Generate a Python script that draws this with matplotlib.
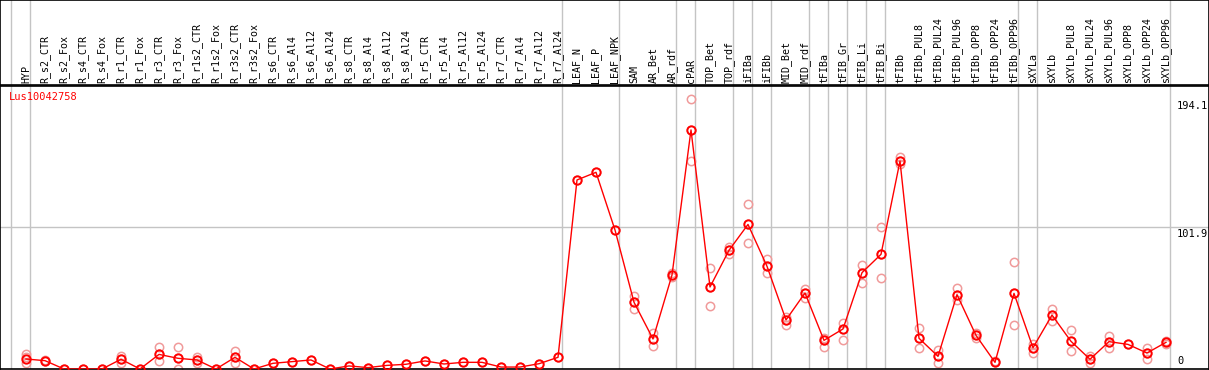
import matplotlib
matplotlib.use("Agg")
import matplotlib.pyplot as plt
from matplotlib.transforms import offset_copy

# categories along the x axis
categories = ["HYP",
    "R_s2_CTR", "R_s2_Fox", "R_s4_CTR", "R_s4_Fox", "R_r1_CTR", "R_r1_Fox",
    "R_r3_CTR", "R_r3_Fox", "R_r1s2_CTR", "R_r1s2_Fox", "R_r3s2_CTR", "R_r3s2_Fox",
    "R_s6_CTR", "R_s6_Al4", "R_s6_Al12", "R_s6_Al24", "R_s8_CTR", "R_s8_Al4",
    "R_s8_Al12", "R_s8_Al24", "R_r5_CTR", "R_r5_Al4", "R_r5_Al12", "R_r5_Al24",
    "R_r7_CTR", "R_r7_Al4", "R_r7_Al12", "R_r7_Al24",
    "LEAF_N", "LEAF_P", "LEAF_NPK",
    "SAM", "AR_Bet", "AR_rdf",
    "cPAR",
    "TOP_Bet", "TOP_rdf",
    "iFIBa", "iFIBb",
    "MID_Bet", "MID_rdf",
    "tFIBa", "tFIB_Gr", "tFIB_Li", "tFIB_Bi",
    "tFIBb", "tFIBb_PUL8", "tFIBb_PUL24", "tFIBb_PUL96", "tFIBb_OPP8", "tFIBb_OPP24", "tFIBb_OPP96",
    "sXYLa",
    "sXYLb", "sXYLb_PUL8", "sXYLb_PUL24", "sXYLb_PUL96", "sXYLb_OPP8", "sXYLb_OPP24", "sXYLb_OPP96"]

# number of samples in each group (gray separators)
group_sizes = [1, 28, 3, 3, 1, 2, 1, 1, 2, 1, 1, 1, 1, 7, 1, 7]

means = [7.2,
    6.0, 0, 0, 0, 7.0, 0, 10.5, 7.7, 6.5, 0, 8.4, 0,
    4.1, 5.3, 6.5, 0, 2.2, 1.0, 2.6, 3.4, 5.8, 3.6, 4.8, 4.8, 1.4, 1.4, 3.8, 8.4,
    136, 141.5, 100,
    48, 21.6, 67.6,
    172,
    59, 85.4,
    104, 73.9,
    35.3, 54.7,
    20.6, 28.8, 69.3, 82.5,
    149.6, 22.1, 9.1, 53.5, 24.2, 4.8, 54.4,
    15.3,
    38.8, 19.9, 7.0, 19.7, 17.7, 11.5, 19.2]

replicates = [[10.5, 8.5, 4],
    [6.5, 5.5], [0], [0], [0], [9.5, 7, 4], [0], [15.5, 10.5, 5.5], [15.5, 7.7, 0],
    [8.5, 6.5, 4], [0], [13, 8.4, 4], [0],
    [4.1], [5.3], [6.5], [0], [2.2], [1.0], [2.6], [3.4], [5.8], [3.6], [4.8], [4.8],
    [1.4], [1.4], [3.8], [8.4],
    [136], [141.5], [100],
    [52.5, 48, 43], [25.7, 21.6, 16.8], [69, 67.6, 66],
    [194.1, 172, 149.4],
    [72.4, 59, 45.1], [87.5, 85.4, 83],
    [118.5, 104, 90.4], [79.1, 73.9, 69.3],
    [37.6, 35.3, 31.7], [57.8, 54.7, 50.8],
    [22.1, 20.6, 15.6], [32.9, 28.8, 20.6], [74.8, 69.3, 61.6], [101.9, 82.5, 65.2],
    [152.3, 149.6, 147.5], [29.3, 22.1, 14.9], [13.7, 9.1, 4.6], [58, 53.5, 49.6],
    [26.1, 24.2, 22.1], [5.5, 4.8], [77, 54.4, 31.4],
    [17.7, 15.3, 11.3],
    [43.2, 38.8, 34.8], [28, 19.9, 12.7], [9.4, 7.0, 4.6], [23.7, 19.7, 15.3],
    [17.7], [15.3, 11.5, 7], [20, 19.2, 18]]

axis_labels = ["194.1", "101.9", "0"]
axis_values = [194.1, 101.9, 0]
gene = "Lus10042758"

W, H = 1209, 370
fig = plt.figure(figsize=(W / 100, H / 100), dpi=100)
font = ["DejaVu Sans Mono"]
gray = "#c4c4c4"

xlim = (-26 / 19, (W - 26) / 19)
ax = fig.add_axes([0, 1 / H, 1, 283 / H])
hx = fig.add_axes([0, (H - 85) / H, 1, 85 / H])
for a in (ax, hx):
    a.set_xlim(*xlim)
    a.set_xticks([])
    a.set_yticks([])
    for s in a.spines.values():
        s.set_color("black")
        s.set_linewidth(1.2)
hx.set_ylim(0, 1)
ax.set_ylim(0, 283 / 1.39)

# group separators
pos = -1
seps = [pos]
for g in group_sizes:
    pos += g
    seps.append(pos)
for e in seps:
    ax.axvline(e + 0.21, color=gray, lw=1, zorder=0)
    hx.axvline(e + 0.21, color=gray, lw=1, zorder=0)
ax.axhline(101.9, color=gray, lw=1, zorder=0)

x = list(range(len(categories)))
for i, reps in enumerate(replicates):
    ax.plot([i] * len(reps), reps, "o", ms=6, mfc="none", mec="#f09a9a",
            mew=1.1, zorder=2)
ax.plot(x, means, "-", color="red", lw=1, zorder=3)
ax.plot(x, means, "o", ms=6, mfc="none", mec="red", mew=1.4, zorder=4)

for i, c in enumerate(categories):
    hx.text(i, 2 / 85, c, rotation=90, ha="center", va="bottom",
            fontsize=7.2, family=font, color="black")

ax.text(9 / W, 1 - 11 / 283, gene, transform=ax.transAxes, color="red",
        fontsize=7.5, family=font, ha="left", va="center")

xr = (1177 - 26) / 19
for lab, v in zip(axis_labels, axis_values):
    if v == 0:
        tr = offset_copy(ax.transData, fig=fig, x=0, y=3, units="dots")
        ax.text(xr, v, lab, transform=tr, ha="left", va="bottom",
                fontsize=7.5, family=font)
    else:
        tr = offset_copy(ax.transData, fig=fig, x=0, y=-2, units="dots")
        ax.text(xr, v, lab, transform=tr, ha="left", va="top",
                fontsize=7.5, family=font)

fig.savefig("out.png", dpi=100)
